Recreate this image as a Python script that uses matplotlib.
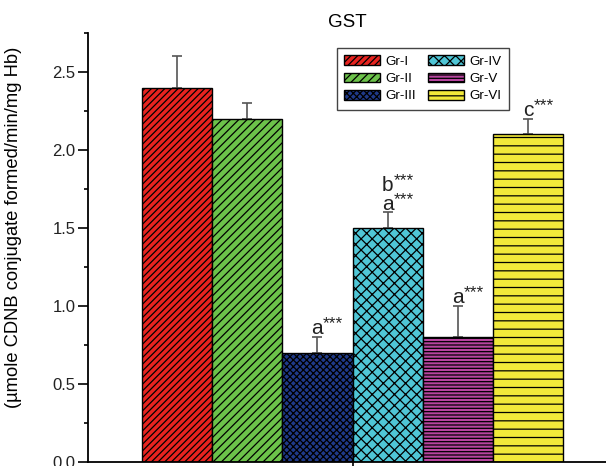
import matplotlib
matplotlib.use("Agg")
import matplotlib.pyplot as plt
from matplotlib.ticker import MultipleLocator

plt.rcParams['font.family'] = ['Liberation Sans', 'DejaVu Sans']
plt.rcParams['hatch.linewidth'] = 0.9

groups = ["Gr-I", "Gr-II", "Gr-III", "Gr-IV", "Gr-V", "Gr-VI"]
means = [2.4, 2.2, 0.7, 1.5, 0.8, 2.1]
errors = [0.2, 0.1, 0.1, 0.1, 0.2, 0.1]
letters = [None, None, ["a"], ["a", "b"], ["a"], ["c"]]

colors = ["#e8231f", "#6cc24a", "#1f3a8a", "#4fc6d6", "#b8449f", "#f2e93a"]
hatches = ["/////", "////", "xxxxx", "xxx", "-----", "--"]

fig = plt.figure(figsize=(6.06, 4.66), dpi=100)
ax = fig.add_axes([88 / 606, 4 / 466, 518 / 606, 429 / 466])

x = list(range(len(groups)))
for i in x:
    ax.bar(i, means[i], width=1.0, color=colors[i], edgecolor="black",
           linewidth=1.0, hatch=hatches[i], label=groups[i], zorder=2)
ax.errorbar(x, means, yerr=[[0] * len(errors), errors], fmt="none",
            ecolor="#555555", elinewidth=1.2, capsize=3.3, capthick=1.2,
            zorder=1)

# significance letters above the error bars
for i in x:
    if not letters[i]:
        continue
    top = means[i] + errors[i]
    for k, let in enumerate(letters[i]):
        dy = 2 + k * 13.5
        ax.annotate(let, xy=(i, top), xytext=(0, dy), textcoords="offset points",
                    ha="center", va="baseline", fontsize=15, color="#222222")
        ax.annotate("***", xy=(i, top), xytext=(4.0, dy + 4.2),
                    textcoords="offset points", ha="left", va="baseline",
                    fontsize=12.5, color="#222222")

ax.set_xlim(-1.263, 6.105)
ax.set_ylim(0, 2.75)
ax.yaxis.set_major_locator(MultipleLocator(0.5))
ax.yaxis.set_minor_locator(MultipleLocator(0.25))
ax.set_xticks([2.5])
ax.set_xticklabels([""])
ax.tick_params(axis="y", which="major", direction="out", length=7, width=1.2,
               pad=2, labelsize=12, labelcolor="#222222")
ax.tick_params(axis="y", which="minor", direction="out", length=3, width=1.2)
ax.tick_params(axis="x", direction="out", length=6, width=1.2)

for s in ["top", "right"]:
    ax.spines[s].set_visible(False)
for s in ["left", "bottom"]:
    ax.spines[s].set_linewidth(1.3)

ax.set_title("GST", fontsize=13.5, pad=4)
ax.set_ylabel("(µmole CDNB conjugate formed/min/mg Hb)", fontsize=13.2)
ax.yaxis.set_label_coords(-0.1274, 0.5466)

leg = ax.legend(ncol=2, loc="upper left",
                bbox_to_anchor=(336.7 / 606, 1 - 48 / 466),
                bbox_transform=fig.transFigure, borderaxespad=0,
                fontsize=9.6, handlelength=2.7, handleheight=0.75,
                handletextpad=0.4, columnspacing=0.9, labelspacing=0.35,
                borderpad=0.55, fancybox=False, framealpha=1)
leg.get_frame().set_edgecolor("#444444")
leg.get_frame().set_linewidth(1.0)

fig.savefig("out.png", dpi=100)
